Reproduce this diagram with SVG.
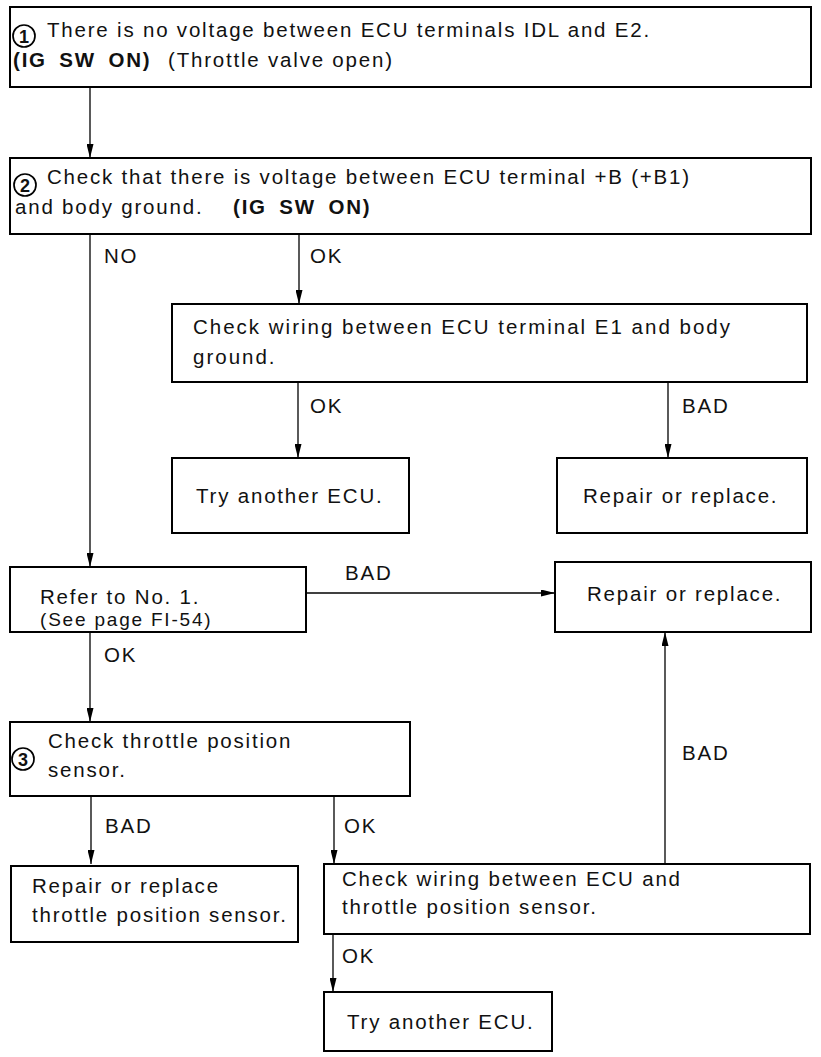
<svg xmlns="http://www.w3.org/2000/svg" width="821" height="1057" viewBox="0 0 821 1057">
  <defs>
    <marker id="arrow" markerUnits="userSpaceOnUse" markerWidth="14" markerHeight="7" refX="14" refY="3.5" orient="auto">
      <path d="M0,0 L14,3.5 L0,7 z" fill="#000"/>
    </marker>
    <style>
      .box { fill: #fff; stroke: #000; stroke-width: 2; }
      .wire { fill: none; stroke: #000; stroke-width: 1.3; }
      .t { font-family: "Liberation Sans", Arial, sans-serif; font-size: 20.5px; letter-spacing: 1.8px; fill: #111; }
      .b { font-weight: bold; word-spacing: 5px; }
      .num { fill: none; stroke: #000; stroke-width: 1.7; }
      .digit { font-family: "Liberation Sans", Arial, sans-serif; font-size: 18px; font-weight: bold; text-anchor: middle; fill: #111; }
    </style>
  </defs>
  <rect width="821" height="1057" fill="#fff"/>

  <!-- connectors and their branch labels -->
  <g id="connectors">
    <line class="wire" x1="90" y1="87" x2="90" y2="158" marker-end="url(#arrow)"/>
    <line class="wire" x1="90" y1="234" x2="90" y2="567" marker-end="url(#arrow)"/>
    <line class="wire" x1="299" y1="234" x2="299" y2="304" marker-end="url(#arrow)"/>
    <line class="wire" x1="298" y1="382" x2="298" y2="458" marker-end="url(#arrow)"/>
    <line class="wire" x1="668" y1="382" x2="668" y2="458" marker-end="url(#arrow)"/>
    <line class="wire" x1="306" y1="593" x2="555" y2="593" marker-end="url(#arrow)"/>
    <line class="wire" x1="90" y1="632" x2="90" y2="722" marker-end="url(#arrow)"/>
    <line class="wire" x1="91" y1="796" x2="91" y2="864" marker-end="url(#arrow)"/>
    <line class="wire" x1="334" y1="796" x2="334" y2="864" marker-end="url(#arrow)"/>
    <line class="wire" x1="665" y1="864" x2="665" y2="632" marker-end="url(#arrow)"/>
    <line class="wire" x1="333" y1="934" x2="333" y2="992" marker-end="url(#arrow)"/>
    <text class="t" x="104" y="263">NO</text>
    <text class="t" x="310" y="263">OK</text>
    <text class="t" x="310" y="413">OK</text>
    <text class="t" x="682" y="413">BAD</text>
    <text class="t" x="345" y="580">BAD</text>
    <text class="t" x="104" y="662">OK</text>
    <text class="t" x="105" y="833">BAD</text>
    <text class="t" x="344" y="833">OK</text>
    <text class="t" x="682" y="760">BAD</text>
    <text class="t" x="342" y="963">OK</text>
  </g>

  <g id="step1">
    <rect class="box" x="10" y="7" width="801" height="80"/>
    <circle class="num" cx="24" cy="36" r="11"/>
    <text class="digit" x="24" y="42.5">1</text>
    <text class="t" x="47" y="37">There is no voltage between ECU terminals IDL and E2.</text>
    <text class="t" x="13" y="67"><tspan class="b">(IG SW ON)</tspan><tspan x="168">(Throttle valve open)</tspan></text>
  </g>

  <g id="step2">
    <rect class="box" x="10" y="158" width="801" height="76"/>
    <circle class="num" cx="25" cy="185" r="11"/>
    <text class="digit" x="25" y="191.5">2</text>
    <text class="t" x="47" y="184">Check that there is voltage between ECU terminal +B (+B1)</text>
    <text class="t" x="15" y="214">and body ground. <tspan class="b" x="233">(IG SW ON)</tspan></text>
  </g>

  <g id="check-e1">
    <rect class="box" x="172" y="304" width="635" height="78"/>
    <text class="t" x="193" y="334" style="letter-spacing:2px">Check wiring between ECU terminal E1 and body</text>
    <text class="t" x="193" y="364" style="letter-spacing:2px">ground.</text>
  </g>

  <g id="try-ecu-1">
    <rect class="box" x="172" y="458" width="237" height="75"/>
    <text class="t" x="196" y="503">Try another ECU.</text>
  </g>

  <g id="repair-1">
    <rect class="box" x="557" y="458" width="250" height="75"/>
    <text class="t" x="583" y="503">Repair or replace.</text>
  </g>

  <g id="refer-no1">
    <rect class="box" x="10" y="567" width="296" height="65"/>
    <text class="t" x="40" y="604">Refer to No. 1.</text>
    <text class="t" x="40" y="626" style="font-size:19px">(See page FI-54)</text>
  </g>

  <g id="repair-2">
    <rect class="box" x="555" y="562" width="256" height="70"/>
    <text class="t" x="587" y="601">Repair or replace.</text>
  </g>

  <g id="step3">
    <rect class="box" x="10" y="722" width="400" height="74"/>
    <circle class="num" cx="23" cy="759" r="11"/>
    <text class="digit" x="23" y="765.5">3</text>
    <text class="t" x="48" y="748">Check throttle position</text>
    <text class="t" x="48" y="777">sensor.</text>
  </g>

  <g id="repair-sensor">
    <rect class="box" x="11" y="866" width="287" height="76"/>
    <text class="t" x="32" y="893">Repair or replace</text>
    <text class="t" x="32" y="922">throttle position sensor.</text>
  </g>

  <g id="check-sensor-wiring">
    <rect class="box" x="324" y="864" width="486" height="70"/>
    <text class="t" x="342" y="886">Check wiring between ECU and</text>
    <text class="t" x="342" y="914">throttle position sensor.</text>
  </g>

  <g id="try-ecu-2">
    <rect class="box" x="324" y="992" width="228" height="59"/>
    <text class="t" x="347" y="1029">Try another ECU.</text>
  </g>
</svg>
